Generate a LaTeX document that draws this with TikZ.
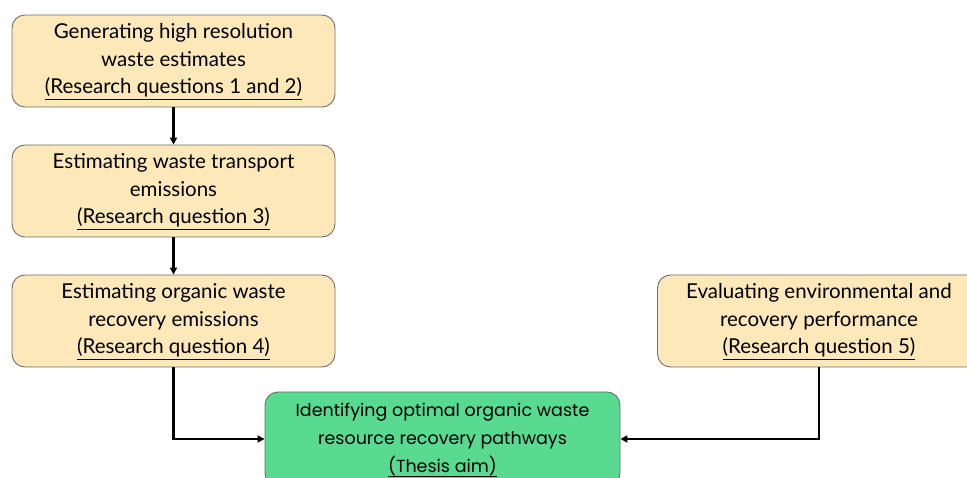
\documentclass[tikz,border=0pt]{standalone}
\usepackage{fontspec}
\setmainfont{Lato}
\newfontfamily\greenfont{Poppins}
\usetikzlibrary{arrows.meta}
\definecolor{boxyellow}{RGB}{253,232,186}
\definecolor{boxgreen}{RGB}{88,218,145}
\definecolor{boxedge}{RGB}{110,110,110}
\newcommand{\lowtext}[1]{\raisebox{-3.5pt}{\begin{tabular}{@{}c@{}}#1\end{tabular}}}
\begin{document}
\begin{tikzpicture}[x=1pt,y=-1pt,
  stepbox/.style={draw=boxedge, line width=0.9pt, rounded corners=13pt, fill=boxyellow,
    minimum width=323pt, minimum height=92pt, align=center,
    font=\fontsize{20.5}{27.5}\selectfont, inner sep=0pt},
  aimbox/.style={draw=boxedge, line width=0.9pt, rounded corners=13pt, fill=boxgreen,
    minimum width=355pt, minimum height=94pt, align=center,
    font=\greenfont\fontsize{17.5}{27.5}\selectfont, inner sep=0pt},
  link/.style={line width=2.4pt, -{Triangle[length=7pt,width=7pt]}}
]
\useasboundingbox (0,0) rectangle (967,478);
\node[stepbox] (b1) at (173.5,61) {\lowtext{Generating high resolution\\waste estimates\\\underline{(Research questions 1 and 2)}}};
\node[stepbox] (b2) at (173.5,191) {\lowtext{Estimating waste transport\\emissions\\\underline{(Research question 3)}}};
\node[stepbox] (b3) at (173.5,321) {\lowtext{Estimating organic waste\\recovery emissions\\\underline{(Research question 4)}}};
\node[stepbox] (b4) at (819,321) {\lowtext{Evaluating environmental and\\recovery performance\\\underline{(Research question 5)}}};
\node[aimbox] (aim) at (442.5,439) {\lowtext{Identifying optimal organic waste\\resource recovery pathways\\\underline{(Thesis aim)}}};
\draw[link] (b1.south) -- (b2.north);
\draw[link] (b2.south) -- (b3.north);
\draw[link] (b3.south) |- (aim.west);
\draw[link] (b4.south) |- (aim.east);
\end{tikzpicture}
\end{document}
